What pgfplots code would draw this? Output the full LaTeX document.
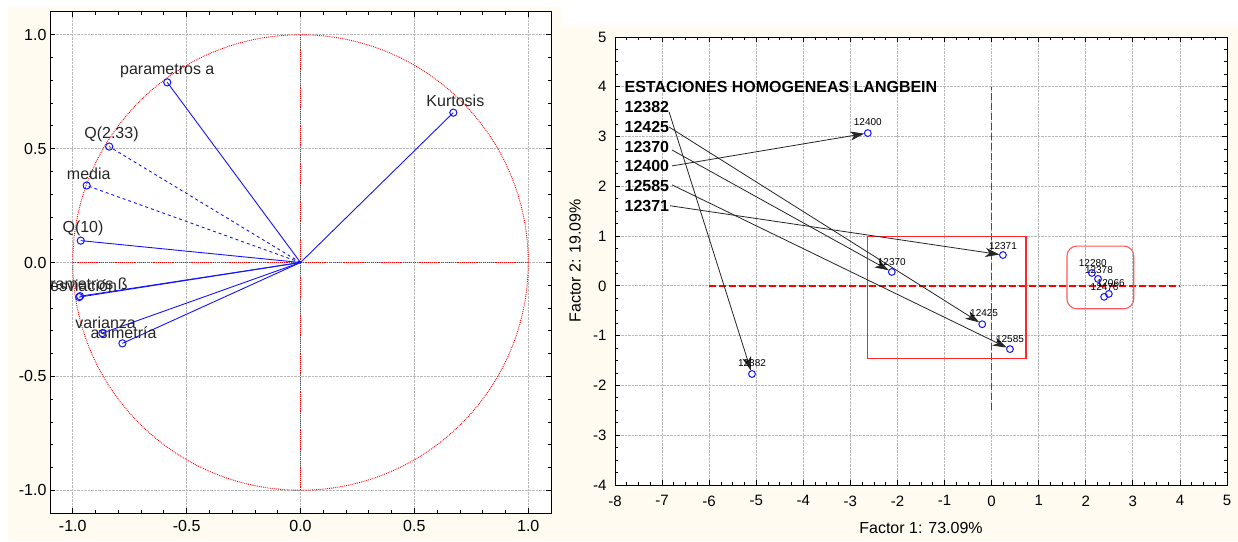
\documentclass[border=0pt]{standalone}
\usepackage{fontspec}
\setmainfont{Liberation Sans}
\usepackage{pgfplots}
\pgfplotsset{compat=1.18}
\usetikzlibrary{arrows.meta}
\definecolor{cream}{RGB}{255,251,240}
\definecolor{pblue}{RGB}{20,20,255}
\definecolor{gridgray}{RGB}{185,185,185}
\definecolor{boxred}{RGB}{255,40,40}
\definecolor{softred}{RGB}{255,90,90}
\definecolor{dashred}{RGB}{255,0,0}

\pgfplotsset{
  mybase/.style={
    scale only axis, anchor=south west,
    axis background/.style={fill=white},
    axis line style={black, line width=1pt},
    tick align=inside,
    xtick pos=both, ytick pos=both,
    xticklabel pos=left, yticklabel pos=left,
    major tick length=5pt, minor tick length=3pt,
    every tick/.style={black, line width=0.8pt},
    grid=major,
    major grid style={gridgray, densely dotted, line width=0.8pt},
    /pgf/number format/assume math mode=true,
    label style={font=\fontsize{16}{18}\selectfont},
  }
}

\begin{document}
\begin{tikzpicture}
\useasboundingbox (0pt,0pt) rectangle (1238pt,541pt);
\fill[white] (0pt,0pt) rectangle (1238pt,541pt);
\fill[cream] (8pt,0pt) rectangle (1238pt,515pt);
\fill[cream] (8pt,514pt) rectangle (561pt,534pt);

% ---------------- left panel ----------------
\begin{axis}[mybase, at={(50pt,28pt)}, width=501pt, height=501pt,
  xmin=-1.1, xmax=1.1, ymin=-1.1, ymax=1.1,
  xtick={-1,-0.5,0,0.5,1}, ytick={-1,-0.5,0,0.5,1},
  minor tick num=4,
  ticklabel style={font=\fontsize{16}{18}\selectfont,
    /pgf/number format/fixed, /pgf/number format/fixed zerofill,
    /pgf/number format/precision=1},
  xticklabel style={yshift=-4pt},
]
\draw[red, densely dotted, line width=0.9pt] (axis cs:0,0) circle [radius=1];
\addplot[red, densely dotted, line width=0.9pt] coordinates {(-1,0) (1,0)};
\addplot[red, densely dotted, line width=0.9pt] coordinates {(0,-1) (0,1)};

\pgfplotsset{vec/.style={pblue, line width=0.9pt, mark=o, mark size=3.6pt, mark indices={2}, mark options={solid, line width=1pt}}}
\addplot[vec] coordinates {(0,0) (-0.585,0.791)};
\addplot[vec, dashed] coordinates {(0,0) (-0.840,0.509)};
\addplot[vec, dashed] coordinates {(0,0) (-0.939,0.338)};
\addplot[vec] coordinates {(0,0) (-0.965,0.096)};
\addplot[vec] coordinates {(0,0) (-0.972,-0.152)};
\addplot[vec] coordinates {(0,0) (-0.968,-0.148)};
\addplot[vec] coordinates {(0,0) (-0.870,-0.310)};
\addplot[vec] coordinates {(0,0) (-0.782,-0.355)};
\addplot[vec] coordinates {(0,0) (0.671,0.658)};

\begin{scope}[every node/.style={font=\fontsize{16}{18}\selectfont, text=black!85, inner sep=0pt, anchor=center}]
\node at (axis cs:-0.585,0.843) {parametros a};
\node at (axis cs:-0.830,0.562) {Q(2.33)};
\node at (axis cs:-0.930,0.390) {media};
\node at (axis cs:-0.955,0.148) {Q(10)};
\node at (axis cs:-0.972,-0.100) {desviación};
\node at (axis cs:-0.968,-0.100) {parametros ß};
\node at (axis cs:-0.856,-0.265) {varianza};
\node at (axis cs:-0.777,-0.307) {asimetría};
\node at (axis cs:0.680,0.710) {Kurtosis};
\end{scope}
\end{axis}

% ---------------- right panel ----------------
\begin{axis}[mybase, at={(615pt,56pt)}, width=612pt, height=448pt,
  xmin=-8, xmax=5, ymin=-4, ymax=5,
  xtick={-8,-7,...,5}, ytick={-4,-3,...,5},
  minor tick num=3,
  ticklabel style={font=\fontsize{15}{17}\selectfont},
  xticklabel style={yshift=-7pt},
  yticklabel style={xshift=-5pt},
  xlabel={Factor 1: 73.09\%}, ylabel={Factor 2: 19.09\%},
  xlabel style={at={(axis description cs:0.5,0)}, anchor=center, inner sep=0pt, yshift=-43pt},
  ylabel style={at={(axis description cs:0,0.5)}, anchor=center, inner sep=0pt, rotate=0, yshift=40pt},
]
% red reference lines
\addplot[dashred, line width=1.5pt, dash pattern=on 7pt off 3pt] coordinates {(-6,0) (4,0)};
\addplot[dashred, line width=1.5pt, dash pattern=on 7pt off 3pt] coordinates {(0,-2.5) (0,4)};
% boxes
\draw[boxred, line width=1.1pt] (axis cs:-2.63,-1.45) rectangle (axis cs:0.73,1.0);
\draw[softred, line width=1.1pt, rounded corners=10pt] (axis cs:1.60,-0.46) rectangle (axis cs:3.02,0.80);

% arrows from station list
\pgfplotsset{arr/.style={black!85, line width=0.8pt, -{Stealth[length=14pt,width=9pt,inset=4pt]}, shorten >=3.5pt}}
\addplot[arr] coordinates {(-6.85,3.49) (-5.09,-1.77)};
\addplot[arr] coordinates {(-6.85,3.19) (-0.20,-0.77)};
\addplot[arr] coordinates {(-6.79,2.73) (-2.12,0.28)};
\addplot[arr] coordinates {(-6.79,2.41) (-2.63,3.07)};
\addplot[arr] coordinates {(-6.79,2.03) (0.39,-1.27)};
\addplot[arr] coordinates {(-6.83,1.61) (0.24,0.62)};

% station points
\addplot[only marks, pblue, mark=o, mark size=3.4pt, mark options={line width=1pt}] coordinates {
 (-2.63,3.07) (-2.12,0.28) (0.24,0.62) (-0.20,-0.77) (0.39,-1.27) (-5.09,-1.77)
 (2.13,0.26) (2.26,0.14) (2.39,-0.22) (2.49,-0.16)};

\begin{scope}[every node/.style={font=\fontsize{10}{12}\selectfont, inner sep=0pt, anchor=center}]
\node at (axis cs:-2.63,3.29) {12400};
\node at (axis cs:-2.12,0.48) {12370};
\node at (axis cs:0.24,0.80) {12371};
\node at (axis cs:-0.16,-0.54) {12425};
\node at (axis cs:0.39,-1.06) {12585};
\node at (axis cs:-5.09,-1.56) {12382};
\node at (axis cs:2.15,0.46) {12280};
\node at (axis cs:2.28,0.32) {12378};
\node at (axis cs:2.40,-0.02) {12476};
\node at (axis cs:2.53,0.05) {12066};
\end{scope}

\begin{scope}[every node/.style={font=\bfseries\fontsize{16}{18}\selectfont, inner sep=0pt, anchor=west}]
\node at (axis cs:-7.80,4.0) {ESTACIONES HOMOGENEAS LANGBEIN};
\node at (axis cs:-7.80,3.6) {12382};
\node at (axis cs:-7.80,3.2) {12425};
\node at (axis cs:-7.80,2.8) {12370};
\node at (axis cs:-7.80,2.4) {12400};
\node at (axis cs:-7.80,2.0) {12585};
\node at (axis cs:-7.80,1.6) {12371};
\end{scope}
\end{axis}
\end{tikzpicture}
\end{document}
